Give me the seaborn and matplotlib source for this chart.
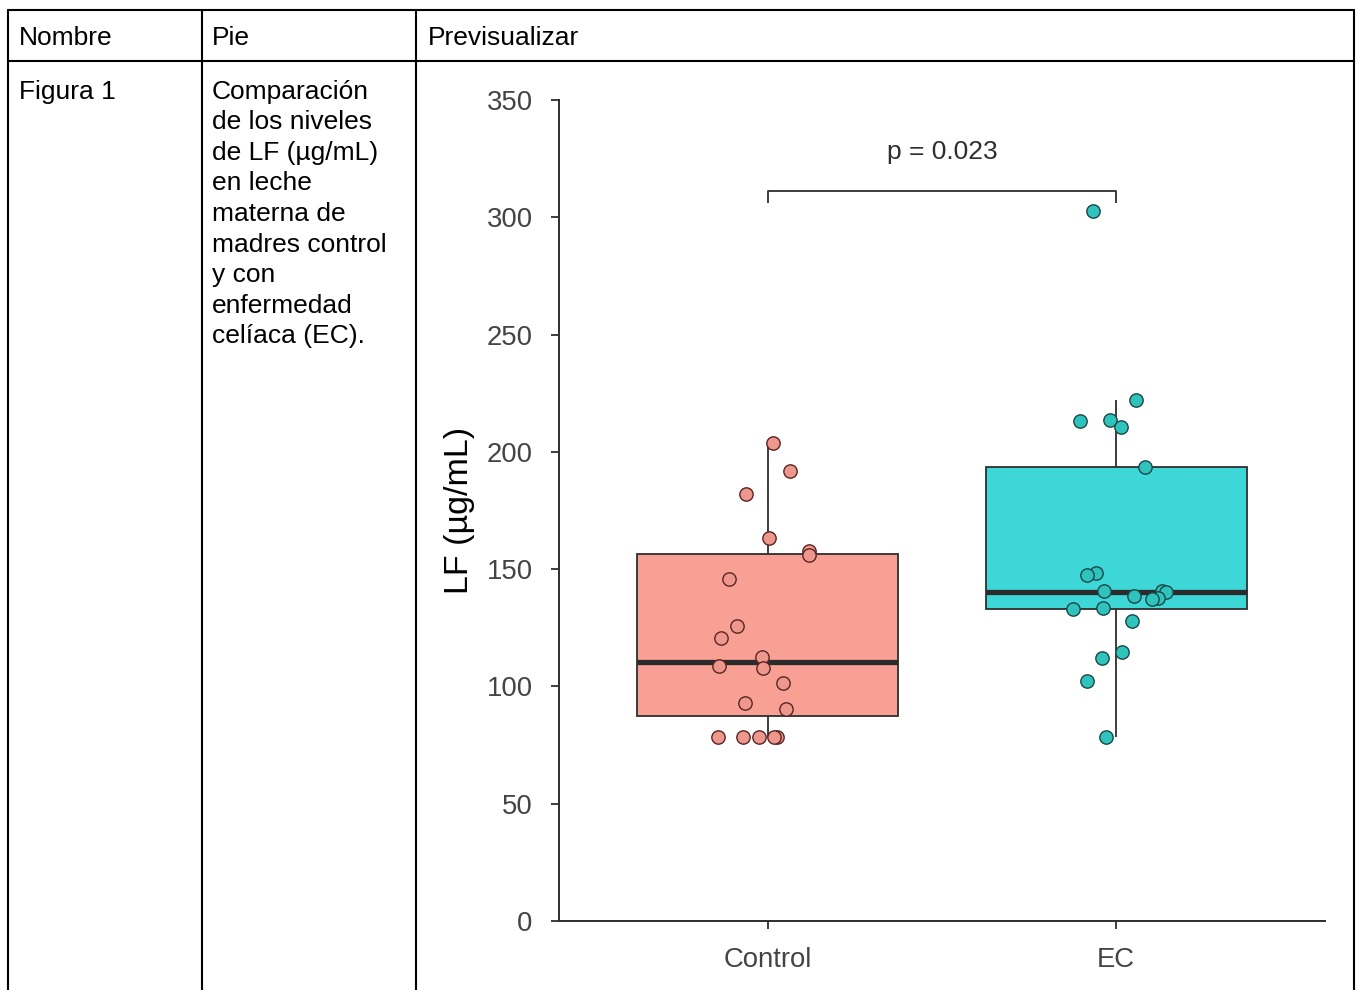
import numpy as np
import pandas as pd
import matplotlib
matplotlib.use("Agg")
import matplotlib.pyplot as plt
from matplotlib.lines import Line2D
import seaborn as sns

# ---------------- data ----------------
groups = ["Control", "EC"]
control_values = [203.8, 191.8, 182.0, 163.3, 157.7, 156.0, 145.8, 125.8, 120.6,
                  112.5, 108.7, 107.9, 101.5, 92.9, 90.4, 78.5, 78.5, 78.5, 78.5, 78.5]
ec_values = [302.7, 222.1, 213.6, 213.3, 210.7, 193.5, 148.5, 147.5, 140.8, 140.8,
             140.1, 138.6, 137.8, 137.1, 133.6, 132.8, 127.9, 114.8, 112.2, 102.3, 78.5]
y_ticks = [0, 50, 100, 150, 200, 250, 300, 350]
p_label = "p = 0.023"

header_labels = ["Nombre", "Pie", "Previsualizar"]
row_name = "Figura 1"
caption_lines = ["Comparación", "de los niveles", "de LF (µg/mL)", "en leche",
                 "materna de", "madres control", "y con", "enfermedad",
                 "celíaca (EC)."]

df = pd.DataFrame({
    "group": ["Control"] * len(control_values) + ["EC"] * len(ec_values),
    "value": control_values + ec_values,
})

# ---------------- style ----------------
sns.set_theme(style="ticks")
plt.rcParams["font.family"] = ["Liberation Sans", "DejaVu Sans"]

W, H = 1358, 990
fig = plt.figure(figsize=(W / 100, H / 100), dpi=100)
fig.patch.set_facecolor("white")

def fx(x):
    return x / W

def fy(y):
    return 1 - y / H

# ---------------- table frame ----------------
lw_tab = 1.5
for (x0, y0, x1, y1) in [(7.5, 9.5, 1354, 9.5), (7.5, 61, 1354, 61),
                         (7.5, 9.5, 7.5, 990), (201.5, 9.5, 201.5, 990),
                         (416, 9.5, 416, 990), (1354, 9.5, 1354, 990)]:
    fig.add_artist(Line2D([fx(x0), fx(x1)], [fy(y0), fy(y1)], color="black",
                          lw=lw_tab, transform=fig.transFigure))

tab_fs = 19
for lbl, x in zip(header_labels, [19, 212, 428]):
    fig.text(fx(x), fy(45), lbl, fontsize=tab_fs, va="baseline", ha="left",
             color="black")
fig.text(fx(19), fy(98.5), row_name, fontsize=tab_fs, va="baseline", ha="left",
         color="black")
for i, line in enumerate(caption_lines):
    fig.text(fx(212), fy(98.5 + i * 30.6), line, fontsize=tab_fs,
             va="baseline", ha="left", color="black")

# ---------------- chart ----------------
ax = fig.add_axes([fx(559), fy(921), (1325 - 559) / W, (921 - 100) / H])
ax.set_facecolor("white")

box_colors = {"Control": "#F9A094", "EC": "#3DD7D8"}
pt_colors = {"Control": "#EE978D", "EC": "#2FC3BE"}
edge_colors = {"Control": "#5a2424", "EC": "#1d4646"}

sns.boxplot(data=df, x="group", y="value", hue="group", order=groups,
            hue_order=groups, palette=box_colors, saturation=1, width=0.75,
            showfliers=False, linewidth=1.3, linecolor="#2e2e2e",
            medianprops=dict(linewidth=3.8, color="#2b2b2b"),
            capprops=dict(visible=False), legend=False, ax=ax)

np.random.seed(3)
for g in groups:
    sub = df[df["group"] == g]
    sns.stripplot(data=sub, x="group", y="value", order=groups,
                  color=pt_colors[g], edgecolor=edge_colors[g], linewidth=1.0,
                  size=9.6, jitter=0.15, ax=ax, zorder=5)

# significance bracket
ax.plot([0, 0, 1, 1], [306, 311, 311, 306], color="#2e2e2e", lw=1.3,
        solid_capstyle="butt")
ax.text(0.5, 325, p_label, ha="center", va="baseline", fontsize=19,
        color="#2e2e2e")

ax.set_xlim(-0.6, 1.6)
ax.set_ylim(0, 350)
ax.set_yticks(y_ticks)
ax.set_yticklabels([str(t) for t in y_ticks])
ax.set_xlabel("")
ax.set_ylabel("LF (µg/mL)", fontsize=24.5, color="black", labelpad=8)

sns.despine(ax=ax)
for s in ["left", "bottom"]:
    ax.spines[s].set_color("#2e2e2e")
    ax.spines[s].set_linewidth(1.4)
ax.tick_params(axis="both", direction="out", length=6, width=1.3,
               color="#2e2e2e", labelsize=19.8, labelcolor="#444444", pad=13)

fig.savefig("out.png", dpi=100, facecolor="white")
